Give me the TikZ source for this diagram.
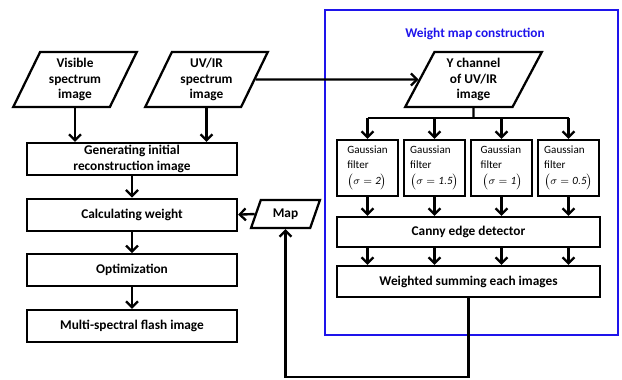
\documentclass[tikz,border=0pt]{standalone}
\usepackage{fontspec}
\setmainfont{Carlito}
\usetikzlibrary{shapes.geometric,arrows.meta}
\definecolor{wmblue}{RGB}{30,20,235}

\begin{document}
\begin{tikzpicture}[x=0.75pt, y=-0.75pt, node distance=41.75pt,
    procbox/.style={rectangle, draw, line width=1.7pt, inner sep=0pt, align=center, font=\fontsize{10}{11.8}\selectfont\bfseries},
    iobox/.style={trapezium, trapezium left angle=65, trapezium right angle=115, trapezium stretches=true, draw, line width=1.7pt, inner sep=0pt, align=center, font=\fontsize{10}{11.8}\selectfont\bfseries},
    gaussbox/.style={rectangle, draw, line width=1.7pt, minimum width=46pt, minimum height=42pt, inner sep=0pt, align=left, font=\fontsize{8.3}{11.2}\selectfont},
    flow/.style={-{Straight Barb[length=4.5pt,width=9pt,line width=1.7pt]}, line width=1.8pt},
    conn/.style={line width=1.8pt}]
    \useasboundingbox (0,0) rectangle (622,379);

    % Masukan citra
    \node (vis) [iobox, minimum width=93pt, minimum height=41.25pt] at (75,79.5) {Visible\\spectrum\\image};
    \node (uv) [iobox, minimum width=92.25pt, minimum height=41.25pt] at (206.5,79.5) {UV/IR\\spectrum\\image};

    % Alur utama (kolom kiri)
    \node (gen) [procbox, minimum width=157.5pt, minimum height=24pt] at (132,159) {Generating initial\\reconstruction image};
    \node (calc) [procbox, minimum width=157.5pt, minimum height=24pt, below of=gen] {Calculating weight};
    \node (opt) [procbox, minimum width=157.5pt, minimum height=24pt, below of=calc] {Optimization};
    \node (flash) [procbox, minimum width=157.5pt, minimum height=24pt, below of=opt] {Multi-spectral flash image};

    \node (map) [iobox, minimum width=51.75pt, minimum height=21pt] at (285.5,214) {Map};

    % Blok pembuatan weight map
    \draw [wmblue, line width=2.2pt] (325,10) rectangle (618,335);
    \node (title) [text=wmblue, font=\fontsize{10}{12}\selectfont\bfseries] at (475,34) {Weight map construction};

    \node (ych) [iobox, minimum width=102.75pt, minimum height=41.25pt] at (473.5,79.5) {Y channel\\of UV/IR\\image};

    \node (g1) [gaussbox] at (367.5,168) {Gaussian\\filter\\[1pt]$\bigl(\sigma = \mathit{2}\bigr)$};
    \node (g2) [gaussbox, right of=g1, xshift=8.5pt] {Gaussian\\filter\\[1pt]$\bigl(\sigma = \mathit{1.5}\bigr)$};
    \node (g3) [gaussbox, right of=g2, xshift=8.5pt] {Gaussian\\filter\\[1pt]\,$\bigl(\sigma = \mathit{1}\bigr)$};
    \node (g4) [gaussbox, right of=g3, xshift=8.5pt] {Gaussian\\filter\\[1pt]$\bigl(\sigma = \mathit{0.5}\bigr)$};

    \node (canny) [procbox, minimum width=197.25pt, minimum height=22.5pt] at (468.5,232) {Canny edge detector};
    \node (wsum) [procbox, minimum width=197.25pt, minimum height=23.25pt, below of=canny, yshift=4.6pt] {Weighted summing each images};

    \coordinate (split) at (473.5,118);
    \coordinate (bottom) at (470,377);

    % Panah
    \draw [flow] (vis.south) -- (vis.south |- gen.north);
    \draw [flow] (uv.south) -- (uv.south |- gen.north);
    \draw [flow] (uv.east) -- (ych.west);
    \draw [flow] (gen) -- (calc);
    \draw [flow] (calc) -- (opt);
    \draw [flow] (opt) -- (flash);
    \draw [flow] (map.west) -- (calc.east);

    \draw [conn] (ych.south) -- (split);
    \draw [conn] (g1.north |- split) -- (g4.north |- split);
    \foreach \g in {g1,g2,g3,g4} {
        \draw [flow] (\g.north |- split) -- (\g.north);
        \draw [flow] (\g.south) -- (\g.south |- canny.north);
        \draw [flow] (\g.south |- canny.south) -- (\g.south |- wsum.north);
    }

    \draw [flow] (wsum.south) -- (wsum.south |- bottom) -| (map.south);
\end{tikzpicture}
\end{document}
